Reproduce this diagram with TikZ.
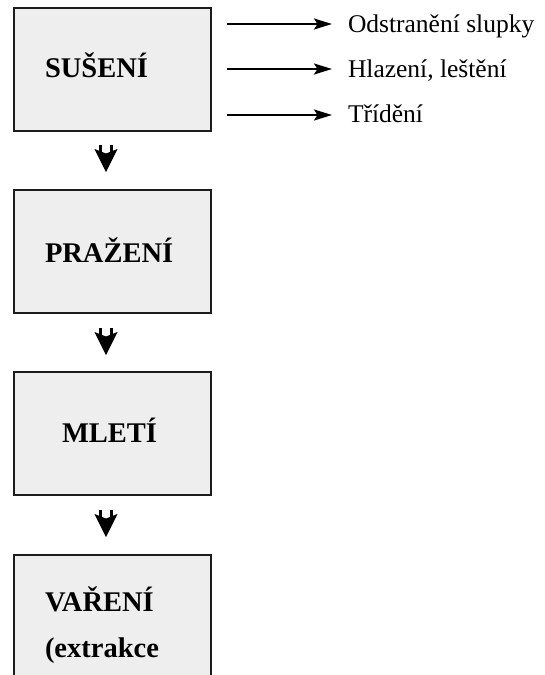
\documentclass[tikz,border=0pt]{standalone}
\usepackage{fontspec}
\setmainfont{Liberation Serif}
\usetikzlibrary{arrows.meta,calc}

\definecolor{boxfill}{HTML}{EEEEEE}
\definecolor{boxline}{HTML}{1C1C1C}

\tikzset{
  stagebox/.style={draw=boxline, fill=boxfill, line width=2.3pt, rectangle,
    minimum width=197pt, minimum height=123pt, anchor=north west,
    inner sep=0pt, outer sep=0pt},
  stagetext/.style={anchor=base west, inner sep=0pt, outer sep=0pt,
    font=\fontsize{28.5}{30}\selectfont\bfseries},
  sidetext/.style={anchor=base west, inner sep=0pt, outer sep=0pt,
    font=\fontsize{25.5}{28}\selectfont},
  sidearrow/.style={line width=2.3pt,
    -{Stealth[length=18pt, width=11pt, inset=3.5pt]}},
  downarrow/.pic={
    \fill[black] (-11.5,4) -- (0,27) -- (11.5,4) -- (0,8.5) -- cycle;
    \draw[line width=2.3pt] (-5.5,0) -- (-5.5,6.5);
    \draw[line width=2.3pt] (5.5,0) -- (5.5,6.5);
  }
}

\begin{document}
\begin{tikzpicture}[x=1pt,y=-1pt]
\useasboundingbox (0,0) rectangle (544,675);
\clip (0,0) rectangle (544,675);

% process stages
\node[stagebox] (s1) at (14,8) {};
\node[stagebox] (s2) at (14,190) {};
\node[stagebox] (s3) at (14,372) {};
\node[stagebox] (s4) at (14,555) {};

\node[stagetext] (l1) at (45,77) {SUŠENÍ};
\node[stagetext] (l2) at (45,262) {PRAŽENÍ};
\node[stagetext] (l3) at (62,442) {MLETÍ};
\node[stagetext] (l4) at (45,611) {VAŘENÍ};
\node[stagetext] (l4b) at (45,657) {(extrakce};

% flow between stages
\pic at ($(s1.south)+(-6.5,14)$) {downarrow};
\pic at ($(s2.south)+(-6.5,15)$) {downarrow};
\pic at ($(s3.south)+(-6.5,15)$) {downarrow};

% by-products of drying
\node[sidetext] (t1) at (348,32) {Odstranění slupky};
\node[sidetext] (t2) at (348,77) {Hlazení, leštění};
\node[sidetext] (t3) at (348,122) {Třídění};

\coordinate (a1) at (227,24);
\coordinate (a2) at (227,69);
\coordinate (a3) at (227,115);

\draw[sidearrow] (a1) -- ($(t1.base west)+(-16,-8)$);
\draw[sidearrow] (a2) -- ($(t2.base west)+(-16,-8)$);
\draw[sidearrow] (a3) -- ($(t3.base west)+(-16,-7)$);
\end{tikzpicture}
\end{document}
